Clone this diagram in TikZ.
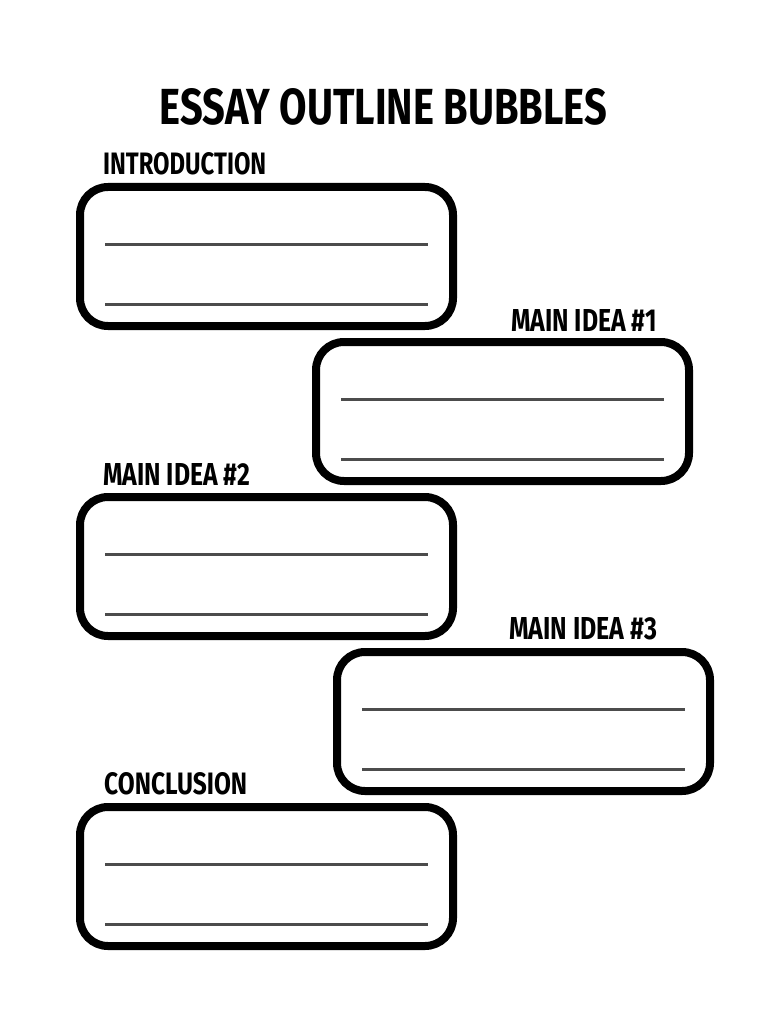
\documentclass[tikz,border=0pt]{standalone}
\usepackage{fontspec}
\setmainfont{Fira Sans}
\usepackage{graphicx}
\newcommand{\fitlbl}[3]{\resizebox{#1pt}{#2pt}{\bfseries #3}}
\begin{document}
\begin{tikzpicture}[x=1pt,y=-1pt,
  bubble/.style={draw=black,line width=8pt,rounded corners=28pt,fill=white},
  wline/.style={draw=black!70,line width=3pt},
  lbl/.style={inner sep=0pt,anchor=west}]
\useasboundingbox (0,0) rectangle (768,1024);
\fill[white] (0,0) rectangle (768,1024);
\node[inner sep=0pt] (title) at (383.5,107) {\fitlbl{447}{36}{ESSAY OUTLINE BUBBLES}};
\def\bub#1#2#3{%
  \draw[bubble] (#2,#3) rectangle ++(373,139);
  \coordinate (#1a1) at (#2+25,#3+57); \coordinate (#1b1) at (#2+348,#3+57);
  \coordinate (#1a2) at (#2+25,#3+117); \coordinate (#1b2) at (#2+348,#3+117);
  \draw[wline] (#1a1) -- (#1b1); \draw[wline] (#1a2) -- (#1b2);}
\bub{i}{80}{187}
\bub{m}{316}{342}
\bub{n}{80}{497}
\bub{o}{337}{652}
\bub{c}{80}{807}
\node[lbl] (lintro) at (103,164) {\fitlbl{163}{22}{INTRODUCTION}};
\node[lbl] (lm1) at (511,320) {\fitlbl{146}{22}{MAIN IDEA \#1}};
\node[lbl] (lm2) at (103,474) {\fitlbl{147}{22}{MAIN IDEA \#2}};
\node[lbl] (lm3) at (509,629) {\fitlbl{148}{22}{MAIN IDEA \#3}};
\node[lbl] (lc) at (104,784) {\fitlbl{143}{22}{CONCLUSION}};
\end{tikzpicture}
\end{document}
